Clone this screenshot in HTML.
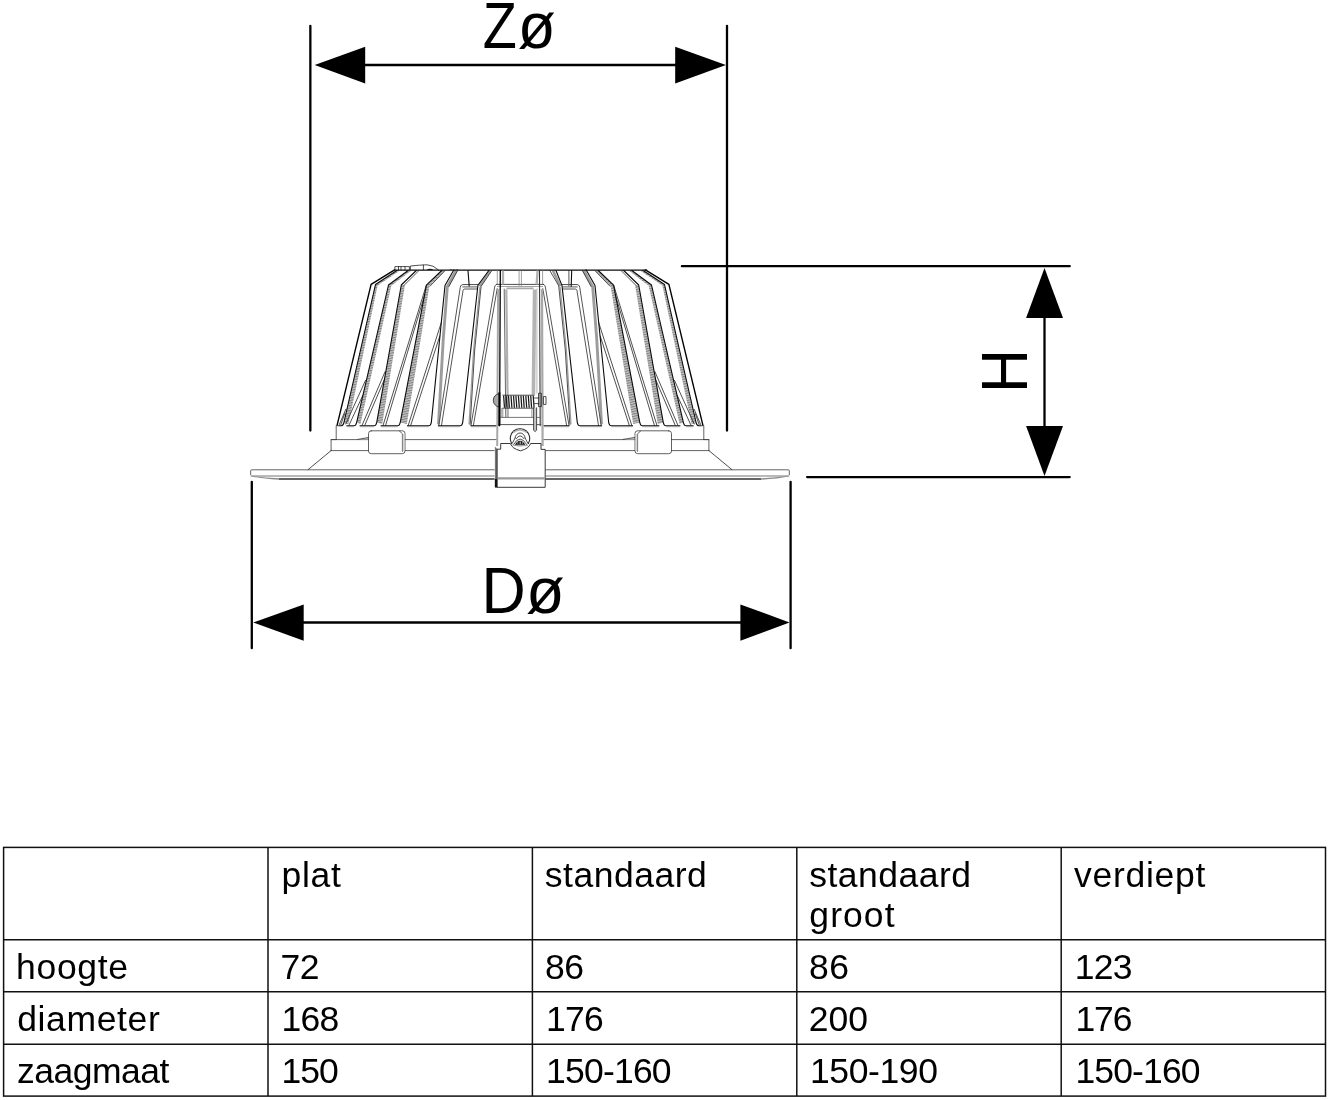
<!DOCTYPE html>
<html lang="nl">
<head>
<meta charset="utf-8">
<title>Maatschets inbouwarmatuur</title>
<style>
html,body{margin:0;padding:0;background:#fff;}
body{width:1332px;height:1100px;position:relative;overflow:hidden;font-family:"Liberation Sans",sans-serif;color:#000;}
svg.sheet{position:absolute;left:0;top:0;width:1332px;height:1100px;display:block;will-change:transform;}
.k{fill:none;stroke:#000;stroke-width:1.4;stroke-linejoin:round;stroke-linecap:round;}
.d{fill:none;stroke:#0c0c0c;stroke-width:1.1;stroke-linejoin:round;stroke-linecap:round;}
.t{fill:none;stroke:#222;stroke-width:0.8;stroke-linejoin:round;stroke-linecap:round;}
.g{fill:none;stroke:#9c9c9c;stroke-width:1.8;stroke-linejoin:round;stroke-linecap:butt;}
.gs{fill:none;stroke:#999;stroke-width:0.9;}
.f{fill:none;stroke:#555;stroke-width:1.0;stroke-linejoin:round;stroke-linecap:round;}
.gp{fill:url(#hatch);stroke:none;}
.g3{fill:none;stroke:#9a9a9a;stroke-width:2.6;stroke-linejoin:round;stroke-linecap:butt;}
.gf{fill:#c4c4c4;stroke:none;}
.spr{fill:none;stroke:#1a1a1a;stroke-width:1.25;}
.lip{fill:none;stroke:#333;stroke-width:1.5;}
.fl1{fill:none;stroke:#333;stroke-width:0.75;}
.fl2{fill:none;stroke:#777;stroke-width:1.2;}
.b{fill:none;stroke:#3a3a3a;stroke-width:0.8;stroke-linejoin:round;stroke-linecap:round;}
.blk{fill:#111;stroke:none;}
.dim line{stroke:#000;stroke-width:2.3;stroke-linecap:round;}
.dim line.butt{stroke-linecap:butt;}
.arrow polygon{fill:#000;}
.lbl text{font-family:"Liberation Sans",sans-serif;font-size:65.3px;fill:#000;}
.grid rect,.grid line{fill:none;stroke:#111;stroke-width:1.5;}
table.spec{position:absolute;left:4px;top:848px;width:1321.5px;border-collapse:collapse;border-spacing:0;table-layout:fixed;font-family:"Liberation Sans",sans-serif;font-size:35.5px;line-height:40px;color:#000;will-change:transform;}
table.spec th,table.spec td{padding:0;margin:0;border:0;font-weight:normal;text-align:left;vertical-align:top;}
table.spec .cell{position:relative;width:100%;height:0;}
table.spec span{position:absolute;display:block;white-space:nowrap;}
</style>
</head>
<body>
<svg class="sheet" width="1332" height="1100" viewBox="0 0 1332 1100" role="img" aria-label="Maatschets">
<defs>
<pattern id="hatch" patternUnits="userSpaceOnUse" width="6" height="2.4" patternTransform="rotate(-14)">
<rect x="0" y="0" width="6" height="2.4" fill="#c6c6c6"/>
<rect x="0" y="0" width="6" height="1.1" fill="#808080"/>
</pattern>
</defs>
<g class="luminaire">
<polygon class="gp" points="396.8,270.5 375.5,284.5 343.8,423.0 348.4,424.0 377.6,285.4 399.6,270.8"/>
<polygon class="gp" points="643.2,270.5 664.5,284.5 696.2,423.0 691.6,424.0 662.4,285.4 640.4,270.8"/>
<polygon class="gp" points="408.1,270.5 388.5,285.0 356.6,422.6 360.4,424.0 391.3,285.8 411.0,270.8"/>
<polygon class="gp" points="631.9,270.5 651.5,285.0 683.4,422.6 679.6,424.0 648.7,285.8 629.0,270.8"/>
<polygon class="gp" points="401.3,285.0 376.7,422.6 382.2,424.0 404.8,285.8"/>
<polygon class="gp" points="638.7,285.0 663.3,422.6 657.8,424.0 635.2,285.8"/>
<polygon class="gp" points="441.7,270.5 426.4,285.2 400.2,422.6 406.8,424.0 429.4,286.0 444.6,270.9"/>
<polygon class="gp" points="598.3,270.5 613.6,285.2 639.8,422.6 633.2,424.0 610.6,286.0 595.4,270.9"/>
<polyline class="g" style="stroke-width:2.9" points="456.0,270.6 447.3,286.6 443.2,340.0 438.5,424.4"/>
<polyline class="g" style="stroke-width:2.9" points="584.0,270.6 592.7,286.6 596.8,340.0 601.5,424.4"/>
<polyline class="g" style="stroke-width:2.2" points="490.0,270.8 479.6,286.4"/>
<polyline class="g" style="stroke-width:2.6" points="553.0,270.8 560.3,286.2"/>
<polyline class="g" style="stroke-width:1.2" points="479.9,287.0 473.6,350.0 469.0,424.4"/>
<polyline class="g" style="stroke-width:1.2" points="560.1,287.0 566.4,350.0 571.0,424.4"/>
<polyline class="t" points="418.6,270.9 403.4,286.0"/>
<polyline class="t" points="621.4,270.9 636.6,286.0"/>
<polyline class="t" points="444.8,270.9 430.0,286.2"/>
<polyline class="t" points="595.2,270.9 610.0,286.2"/>
<polyline class="t" points="457.6,270.6 449.0,286.4"/>
<polyline class="t" points="582.4,270.6 591.0,286.4"/>
<polyline class="t" points="491.6,270.9 481.1,286.4 474.7,350.0 470.2,424.4"/>
<polyline class="t" points="550.0,270.9 558.7,285.7 565.3,350.0 569.8,424.4"/>
<polyline class="t" points="345.8,409.3 339.3,424.6"/>
<polyline class="t" points="694.2,409.3 700.7,424.6"/>
<polyline class="t" points="344.7,413.6 340.9,424.6"/>
<polyline class="t" points="695.3,413.6 699.1,424.6"/>
<polyline class="t" points="365.5,380.4 345.8,424.0"/>
<polyline class="t" points="674.5,380.4 694.2,424.0"/>
<polyline class="t" points="362.7,395.6 349.1,425.0"/>
<polyline class="t" points="677.3,395.6 690.9,425.0"/>
<polyline class="t" points="385.1,371.6 362.2,425.0"/>
<polyline class="t" points="654.9,371.6 677.8,425.0"/>
<polyline class="t" points="384.0,380.4 364.9,425.0"/>
<polyline class="t" points="656.0,380.4 675.1,425.0"/>
<polyline class="t" points="426.1,285.9 383.1,425.3"/>
<polyline class="t" points="613.9,285.9 656.9,425.3"/>
<polyline class="t" points="424.8,294.5 385.6,425.3"/>
<polyline class="t" points="615.2,294.5 654.4,425.3"/>
<polyline class="t" points="441.3,322.6 408.2,425.4"/>
<polyline class="t" points="598.7,322.6 631.8,425.4"/>
<polyline class="t" points="439.8,336.0 410.7,425.4"/>
<polyline class="t" points="600.2,336.0 629.3,425.4"/>
<polyline class="f" points="477.6,284.5 462.9,284.5 460.7,285.6 460.2,287.8 438.8,425.4"/>
<polyline class="f" points="562.4,284.5 577.1,284.5 579.3,285.6 579.8,287.8 601.2,425.4"/>
<polyline class="f" points="477.0,289.0 464.2,289.0 463.1,290.2 441.5,425.4"/>
<polyline class="f" points="563.0,289.0 575.8,289.0 576.9,290.2 598.5,425.4"/>
<polyline class="g" points="462.4,286.8 477.4,286.8"/>
<polyline class="g" points="577.6,286.8 562.6,286.8"/>
<polyline class="f" points="497.0,284.5 496.4,284.5 494.9,285.8 494.5,288.0 471.0,425.4"/>
<polyline class="f" points="543.0,284.5 543.6,284.5 545.1,285.8 545.5,288.0 569.0,425.4"/>
<polyline class="f" points="497.2,288.6 473.4,425.4"/>
<polyline class="f" points="542.8,288.6 566.6,425.4"/>
<polyline class="d" points="468.0,270.6 469.2,286.0"/>
<polyline class="d" points="571.7,270.6 571.2,286.2"/>
<polyline class="f" points="568.9,270.6 568.9,286.0"/>
<path class="k" d="M394.6,269.8 L371.1,284.4 L337.0,425.6"/>
<path class="k" d="M645.4,269.8 L668.9,284.4 L703.0,425.6"/>
<path class="d" d="M396.8,270.5 L375.5,284.5 L343.8,423.0 Q343.1,425.7 341.2,425.7 L338.6,425.7"/>
<path class="d" d="M643.2,270.5 L664.5,284.5 L696.2,423.0 Q696.9,425.7 698.8,425.7 L701.4,425.7"/>
<path class="d" d="M408.1,270.5 L388.5,285.0 L356.6,422.6 Q355.9,425.7 354.0,425.7 L346.8,425.7"/>
<path class="d" d="M631.9,270.5 L651.5,285.0 L683.4,422.6 Q684.1,425.7 686.0,425.7 L693.2,425.7"/>
<path class="d" d="M416.3,270.5 L401.3,285.0 L376.7,422.6 Q376.0,425.7 374.1,425.7 L360.0,425.7"/>
<path class="d" d="M623.7,270.5 L638.7,285.0 L663.3,422.6 Q664.0,425.7 665.9,425.7 L680.0,425.7"/>
<path class="d" d="M441.7,270.5 L426.4,285.2 L400.2,422.6 Q399.5,425.7 397.6,425.7 L381.0,425.7"/>
<path class="d" d="M598.3,270.5 L613.6,285.2 L639.8,422.6 Q640.5,425.7 642.4,425.7 L659.0,425.7"/>
<path class="d" d="M453.9,269.8 L445.0,285.5 L431.3,422.6 Q430.6,425.7 428.7,425.7 L407.4,425.7"/>
<path class="d" d="M586.1,269.8 L595.0,285.5 L608.7,422.6 Q609.4,425.7 611.3,425.7 L632.6,425.7"/>
<path class="d" d="M488.8,270.5 L477.9,285.3 L462.7,422.6 Q462.0,425.7 460.1,425.7 L438.4,425.7"/>
<path class="d" d="M556.0,270.5 L562.0,285.6 L577.3,422.6 Q578.0,425.7 579.9,425.7 L601.6,425.7"/>
<polyline class="d" points="471.0,425.7 496.2,425.7"/>
<polyline class="d" points="569.0,425.7 543.8,425.7"/>
<polyline class="gs" points="346.8,426.7 354.0,426.7"/>
<polyline class="gs" points="693.2,426.7 686.0,426.7"/>
<polyline class="gs" points="360.0,426.7 374.0,426.7"/>
<polyline class="gs" points="680.0,426.7 666.0,426.7"/>
<polyline class="gs" points="381.0,426.7 397.6,426.7"/>
<polyline class="gs" points="659.0,426.7 642.4,426.7"/>
<polyline class="gs" points="407.4,426.7 428.6,426.7"/>
<polyline class="gs" points="632.6,426.7 611.4,426.7"/>
<polyline class="gs" points="438.4,426.7 460.0,426.7"/>
<polyline class="gs" points="601.6,426.7 580.0,426.7"/>
<polyline class="gs" points="471.0,426.7 496.0,426.7"/>
<polyline class="gs" points="569.0,426.7 544.0,426.7"/>
<polyline class="b" points="336.2,426.0 336.2,439.6"/>
<polyline class="b" points="703.8,426.0 703.8,439.6"/>
<polyline class="b" points="336.2,439.6 331.1,439.6 331.1,450.6"/>
<polyline class="b" points="703.8,439.6 708.9,439.6 708.9,450.6"/>
<polyline class="b" points="331.1,439.6 368.5,439.6"/>
<polyline class="b" points="708.9,439.6 671.5,439.6"/>
<polyline class="b" points="405.0,439.6 497.0,439.6"/>
<polyline class="b" points="635.0,439.6 543.0,439.6"/>
<polyline class="b" points="331.1,450.6 368.5,450.6"/>
<polyline class="b" points="708.9,450.6 671.5,450.6"/>
<polyline class="b" points="405.0,450.6 497.0,450.6"/>
<polyline class="b" points="635.0,450.6 543.0,450.6"/>
<path class="gf" d="M357.7,439.5 L368.5,437.5 V439.5 Z"/>
<path class="gf" d="M623.0,439.5 L635.0,437.4 V439.5 Z"/>
<polyline class="b" points="357.7,439.4 368.5,437.5"/>
<polyline class="b" points="623.0,439.4 635.0,437.4"/>
<polyline class="t" points="331.1,450.6 308.1,469.6"/>
<polyline class="t" points="708.9,450.6 731.9,469.6"/>
<path class="b" d="M371.2,430.8 H402.3 Q405,430.8 405,433.5 V451 Q405,453.7 402.3,453.7 H371.2 Q368.5,453.7 368.5,451 V433.5 Q368.5,430.8 371.2,430.8 Z"/>
<path class="b" d="M668.8,430.8 H637.7 Q635,430.8 635,433.5 V451 Q635,453.7 637.7,453.7 H668.8 Q671.5,453.7 671.5,451 V433.5 Q671.5,430.8 668.8,430.8 Z"/>
<polyline class="b" points="399.4,431.0 402.4,433.8 402.4,451.4"/>
<polyline class="b" points="640.6,431.0 637.6,433.8 637.6,451.4"/>
<path class="gf" style="fill:#d4d4d4" d="M402.8,434 L404.6,433.6 V451 L402.8,451.4 Z"/>
<path class="gf" style="fill:#d4d4d4" d="M637.2,434 L635.4,433.6 V451 L637.2,451.4 Z"/>
<path class="fl1" d="M250.7,475.2 V470.6 Q250.7,469.8 251.5,469.8 H788.5 Q789.3,469.8 789.3,470.6 V475.2"/>
<path class="fl2" d="M250.8,476.0 H789.2"/>
<path class="lip" d="M279,478.95 H761"/>
<path class="gf" style="fill:#8a8a8a" d="M251.6,476.0 Q264,477.6 279,478.2 V479.7 Q262,478.9 251.6,476.6 Z"/>
<path class="gf" style="fill:#8a8a8a" d="M788.4,476.0 Q776,477.6 761,478.2 V479.7 Q778,478.9 788.4,476.6 Z"/>
<polyline class="d" points="394.6,270.1 646.8,270.1"/>
<path class="t" d="M394.9,270 V266.6 H409.4 V270 M398.5,266.6 V270 M401,266.6 V270 M405,266.6 V270 M410.4,270 V266 Q420,265 427,264.8 Q433,264.8 438.6,270 M423.4,265 V270"/>
<path class="blk" d="M426.5,270 Q430,267.6 433.5,270 Z"/>
<path class="blk" d="M449,270 Q451,268.8 453,270 Z M455,270 Q457,268.8 459,270 Z"/>
<line class="t" x1="496.4" y1="284.4" x2="543.6" y2="284.4"/>
<line class="t" style="stroke-width:0.6;stroke:#666;" x1="497.4" y1="286.5" x2="542.6" y2="286.5"/>
<line class="g" style="stroke-width:1.8;stroke:#aaa;" x1="506.4" y1="288.4" x2="533.6" y2="288.4"/>
<line class="t" style="stroke-width:0.7;stroke:#777;" x1="497.3" y1="270.6" x2="497.3" y2="284.4"/>
<line class="g" style="stroke-width:2.3;stroke:#b0b0b0;" x1="503.0" y1="270.6" x2="503.0" y2="284.4"/>
<line class="g" style="stroke-width:2.0;stroke:#a8a8a8;" x1="498.1" y1="289.0" x2="497.2" y2="448.0"/>
<line class="k" style="stroke-width:1.3;" x1="500.3" y1="270.4" x2="499.6" y2="425.6"/>
<line class="t" style="stroke-width:0.9;stroke:#555;" x1="504.2" y1="289.0" x2="505.8" y2="417.4"/>
<line class="g" style="stroke-width:2.2;stroke:#b0b0b0;" x1="506.3" y1="289.4" x2="507.8" y2="417.4"/>
<line class="t" style="stroke-width:0.7;stroke:#777;" x1="542.6" y1="270.6" x2="542.6" y2="284.4"/>
<line class="g" style="stroke-width:2.3;stroke:#b0b0b0;" x1="537.6" y1="270.6" x2="536.6" y2="284.4"/>
<line class="d" style="stroke-width:1.05;stroke:#2a2a2a;" x1="539.5" y1="270.4" x2="540.2" y2="425.6"/>
<line class="g" style="stroke-width:2.2;stroke:#a8a8a8;" x1="542.0" y1="289.0" x2="542.6" y2="448.0"/>
<line class="g" style="stroke-width:3.6;stroke:#b4b4b4;" x1="534.6" y1="289.4" x2="533.4" y2="394.8"/>
<line class="t" style="stroke-width:0.6;stroke:#888;" x1="536.9" y1="289.0" x2="536.9" y2="393.0"/>
<line class="t" style="stroke-width:0.7;stroke:#777;" x1="519.1" y1="270.6" x2="519.1" y2="285.6"/>
<line class="t" style="stroke-width:0.7;stroke:#777;" x1="521.4" y1="270.6" x2="521.4" y2="285.6"/>
<line class="t" style="stroke-width:0.9;stroke:#666;" x1="500.0" y1="417.4" x2="540.0" y2="417.4"/>
<line class="t" style="stroke-width:1.0;stroke:#555;" x1="499.0" y1="424.6" x2="540.8" y2="424.6"/>
<path class="spr" d="M503.6,395.6 L504.5,407.8 M506.1,395.6 L507.0,407.8 M508.5,395.6 L509.4,407.8 M511.0,395.6 L511.9,407.8 M513.5,395.6 L514.4,407.8 M515.9,395.6 L516.8,407.8 M518.4,395.6 L519.3,407.8 M520.9,395.6 L521.8,407.8 M523.3,395.6 L524.2,407.8 M525.8,395.6 L526.7,407.8 M528.3,395.6 L529.2,407.8 M530.7,395.6 L531.6,407.8 M533.2,395.6 L534.1,407.8"/>
<path class="t" d="M502.8,395.2 H534.2 M502.8,408.2 H534.2"/>
<path class="gf" style="fill:#a8a8a8" d="M498.8,393.6 Q493.3,395.2 493.3,400.3 Q493.3,405.4 498.8,407.0 Z"/>
<path class="t" d="M498.8,393.6 Q493.3,395.2 493.3,400.3 Q493.3,405.4 498.8,407.0"/>
<line class="k" style="stroke-width:2.0;" x1="499.4" y1="393.0" x2="499.3" y2="425.2"/>
<line class="t" style="stroke-width:0.7;stroke:#666;" x1="501.2" y1="408.4" x2="501.2" y2="417.2"/>
<line class="t" style="stroke-width:0.7;stroke:#666;" x1="502.8" y1="408.4" x2="502.8" y2="417.2"/>
<line class="t" style="stroke-width:0.7;stroke:#666;" x1="531.9" y1="408.4" x2="531.9" y2="417.2"/>
<path class="t" d="M538.9,393.2 H541.4 V406.6 H538.9 Z M543.8,396.6 H546 V404.4 H543.8 Z M534.6,398 H538.8 M534.6,403.6 H538.8"/>
<path class="gf" d="M533.6,407.8 V430.2 L535.1,431.6 L536.6,430.2 V407.8 Z"/>
<path class="t" d="M533.6,407.8 V430.2 L535.1,431.6 L536.6,430.2 V407.8"/>
<path class="gf" style="fill:#fff" d="M494.6,446 H545.4 V487.6 H494.6 Z"/>
<path class="gf" style="fill:#777" d="M494.9,446.6 L497.4,449.0 V487.4 H494.9 Z"/>
<path class="blk" d="M494.9,479.0 H497.4 V487.4 H494.9 Z"/>
<path class="t" style="stroke-width:0.9;fill:#fff" d="M497.5,449.2 H500.7 V443.5 H510.4 Q512,448.6 520.5,450.8 Q529,448.6 530.6,443.5 H541.0 V449.4 H545.2 V487.3 H497.5 Z"/>
<line class="g" style="stroke-width:2.2;stroke:#9a9a9a;" x1="497.8" y1="478.3" x2="545.0" y2="478.3"/>
<path class="t" style="stroke-width:1.05" d="M511.6,443.5 A9.8,9.8 0 1 1 528.4,443.5"/>
<path class="t" style="stroke:#888;stroke-width:0.6" d="M512.6,445.0 Q520,447.4 527.4,445.0"/>
<path class="g" style="stroke-width:1.6;stroke:#b0b0b0" d="M513.4,432.4 Q520,427.4 526.6,432.4"/>
<path class="t" d="M515.1,438.0 A5,5 0 0 1 525.1,438.0 M515.1,438.0 L512.3,443.2 M525.1,438.0 L527.8,443.2"/>
<path class="t" d="M516.4,438.6 Q520.1,432.8 523.8,438.6"/>
<path class="t" d="M513.6,444.4 Q520.1,433.4 526.6,444.4"/>
<path class="blk" d="M514.8,444.8 Q520.1,436.6 525.4,444.8 Z"/>
<path class="gf" style="fill:#fff" d="M517.3,442.6 h1 v1 h-1 Z M521.9,442.6 h1 v1 h-1 Z M519.7,441.4 h0.9 v2.6 h-0.9 Z"/>
<path class="t" style="stroke:#888;stroke-width:0.6" d="M514.0,445.6 H527.6"/>
</g>

<g class="dim">
<line x1="310.35" y1="25.8" x2="310.35" y2="430.5"/>
<line x1="727.0" y1="25.8" x2="727.0" y2="430.5"/>
<line x1="360" y1="65" x2="680" y2="65" class="butt"/>
<line x1="251.8" y1="481.8" x2="251.8" y2="648.2"/>
<line x1="790.6" y1="481.8" x2="790.6" y2="648.2"/>
<line x1="300" y1="622.5" x2="745" y2="622.5" class="butt"/>
<line x1="681.9" y1="266.2" x2="1069.7" y2="266.2"/>
<line x1="807.1" y1="477.1" x2="1069.7" y2="477.1"/>
<line x1="1044.5" y1="315" x2="1044.5" y2="430" class="butt"/>
</g>
<g class="arrow">
<polygon points="314.7,65 365.2,46.8 365.2,83.4"/>
<polygon points="725.9,65 675.2,46.8 675.2,83.4"/>
<polygon points="253.2,622.5 303.7,604.4 303.7,640.8"/>
<polygon points="789.5,622.5 740.4,604.4 740.4,640.8"/>
<polygon points="1044.5,268.0 1026.1,318.1 1063.0,318.1"/>
<polygon points="1044.5,476.0 1026.1,426.0 1063.0,426.0"/>
</g>

<g class="lbl">
<text id="tZ" transform="translate(482.63,47.90) scale(0.8530,1)">Z</text>
<text id="tZo" transform="translate(517.77,47.90) scale(0.9495,1)">ø</text>
<text id="tD" transform="translate(481.44,612.90) scale(0.9372,1)">D</text>
<text id="tDo" transform="translate(526.12,612.90) scale(0.9657,1)">ø</text>
<text id="tH" transform="translate(1027.30,392.91) rotate(-90) scale(0.9298,1)">H</text>
</g>
<g class="grid">
<rect x="3.6" y="847.4" width="1321.9" height="248.7"/>
<line x1="268.0" y1="847.4" x2="268.0" y2="1096.1"/>
<line x1="532.4" y1="847.4" x2="532.4" y2="1096.1"/>
<line x1="796.8" y1="847.4" x2="796.8" y2="1096.1"/>
<line x1="1061.2" y1="847.4" x2="1061.2" y2="1096.1"/>
<line x1="3.6" y1="939.8" x2="1325.5" y2="939.8"/>
<line x1="3.6" y1="991.8" x2="1325.5" y2="991.8"/>
<line x1="3.6" y1="1044.3" x2="1325.5" y2="1044.3"/>
</g>
</svg>
<table class="spec">
<colgroup><col style="width:264.0px"><col style="width:264.4px"><col style="width:264.4px"><col style="width:264.4px"><col style="width:264.3px"></colgroup>
<tr style="height:91.8px"><th><div class="cell"></div></th><th scope="col"><div class="cell"><span id="r0c1l0" style="left:13.45px;top:7.00px;letter-spacing:0.732px">plat</span></div></th><th scope="col"><div class="cell"><span id="r0c2l0" style="left:12.47px;top:7.00px;letter-spacing:0.508px">standaard</span></div></th><th scope="col"><div class="cell"><span id="r0c3l0" style="left:12.52px;top:7.00px;letter-spacing:0.480px">standaard</span><span id="r0c3l1" style="left:12.59px;top:47.00px;letter-spacing:1.068px">groot</span></div></th><th scope="col"><div class="cell"><span id="r0c4l0" style="left:12.82px;top:7.00px;letter-spacing:0.728px">verdiept</span></div></th></tr>
<tr style="height:52.0px"><th scope="row"><div class="cell"><span id="r1c0l0" style="left:12.11px;top:7.00px;letter-spacing:0.678px">hoogte</span></div></th><td><div class="cell"><span id="r1c1l0" style="left:12.48px;top:7.00px;letter-spacing:-0.376px">72</span></div></td><td><div class="cell"><span id="r1c2l0" style="left:12.49px;top:7.00px;letter-spacing:-0.325px">86</span></div></td><td><div class="cell"><span id="r1c3l0" style="left:12.24px;top:7.00px;letter-spacing:0.369px">86</span></div></td><td><div class="cell"><span id="r1c4l0" style="left:13.64px;top:7.00px;letter-spacing:-0.824px">123</span></div></td></tr>
<tr style="height:52.5px"><th scope="row"><div class="cell"><span id="r2c0l0" style="left:13.13px;top:7.00px;letter-spacing:0.644px">diameter</span></div></th><td><div class="cell"><span id="r2c1l0" style="left:13.47px;top:7.00px;letter-spacing:-0.786px">168</span></div></td><td><div class="cell"><span id="r2c2l0" style="left:13.66px;top:7.00px;letter-spacing:-0.804px">176</span></div></td><td><div class="cell"><span id="r2c3l0" style="left:11.92px;top:7.00px;letter-spacing:0.045px">200</span></div></td><td><div class="cell"><span id="r2c4l0" style="left:14.22px;top:7.00px;letter-spacing:-1.086px">176</span></div></td></tr>
<tr style="height:51.8px"><th scope="row"><div class="cell"><span id="r3c0l0" style="left:13.00px;top:7.00px;letter-spacing:-0.490px">zaagmaat</span></div></th><td><div class="cell"><span id="r3c1l0" style="left:13.47px;top:7.00px;letter-spacing:-0.941px">150</span></div></td><td><div class="cell"><span id="r3c2l0" style="left:13.66px;top:7.00px;letter-spacing:-0.788px">150-160</span></div></td><td><div class="cell"><span id="r3c3l0" style="left:13.11px;top:7.00px;letter-spacing:-0.376px">150-190</span></div></td><td><div class="cell"><span id="r3c4l0" style="left:14.22px;top:7.00px;letter-spacing:-0.855px">150-160</span></div></td></tr>
</table>
</body>
</html>
